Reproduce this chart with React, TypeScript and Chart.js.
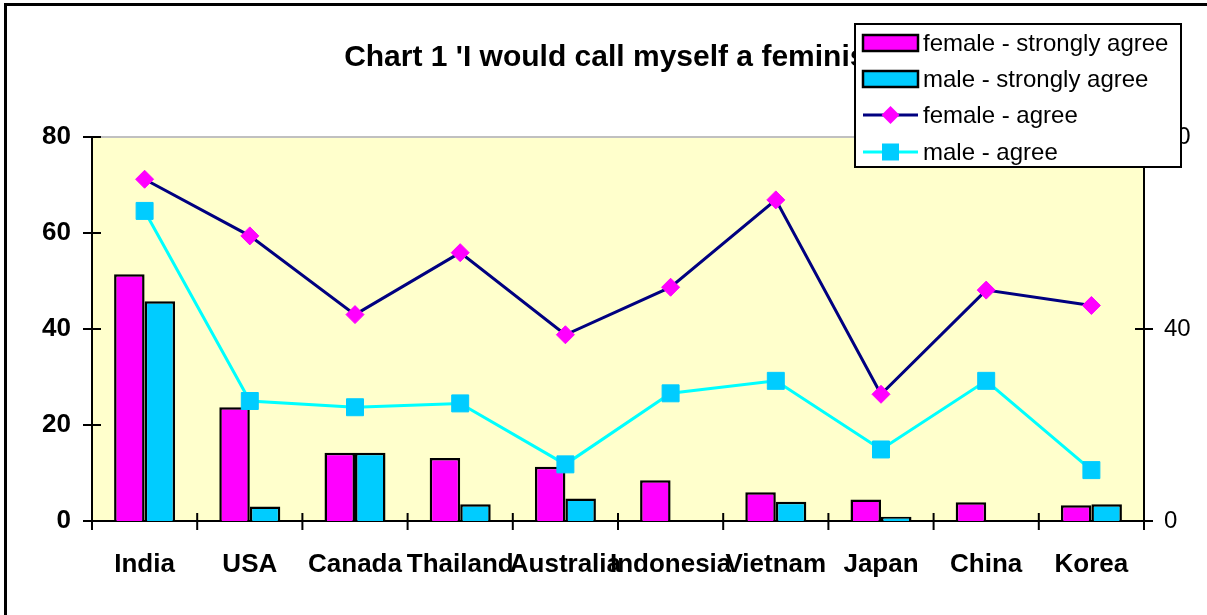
import React, { useEffect, useRef } from "react";
import { Chart, registerables } from "chart.js";

Chart.register(...registerables);

const categories = ["India", "USA", "Canada", "Thailand", "Australia", "Indonesia", "Vietnam", "Japan", "China", "Korea"];
const femaleStronglyAgree = [51.4, 23.7, 14.2, 13.1, 11.3, 8.5, 6.0, 4.5, 3.9, 3.3];
const maleStronglyAgree = [45.8, 3.0, 14.2, 3.5, 4.7, null, 4.0, 0.9, null, 3.5];
const femaleAgree = [71.2, 59.4, 43.0, 55.9, 38.8, 48.7, 66.9, 26.4, 48.1, 44.9];
const maleAgree = [64.6, 25.0, 23.7, 24.5, 11.8, 26.6, 29.2, 14.9, 29.2, 10.6];
const leftTicks = [0, 20, 40, 60, 80];
const rightTicks = [0, 40, 80];
const titleText = "Chart 1 'I would call myself a feminist' ";
const seriesNames = ["female - strongly agree", "male - strongly agree", "female - agree", "male - agree"];

const FONT = "'Liberation Sans', Arial, Helvetica, sans-serif";
const MAGENTA = "#FF00FF";
const CYAN_BAR = "#00CCFF";
const NAVY = "#000080";
const CYAN_LINE = "#00FFFF";

function line(ctx: CanvasRenderingContext2D, x1: number, y1: number, x2: number, y2: number) {
  ctx.beginPath();
  ctx.moveTo(x1, y1);
  ctx.lineTo(x2, y2);
  ctx.stroke();
}

const decorPlugin = {
  id: "decor",
  beforeDraw(chart: any) {
    const ctx = chart.ctx as CanvasRenderingContext2D;
    ctx.save();
    ctx.fillStyle = "#FFFFFF";
    ctx.fillRect(0, 0, chart.width, chart.height);
    ctx.strokeStyle = "#000";
    ctx.lineWidth = 3;
    line(ctx, 4.5, 4.5, chart.width, 4.5);
    line(ctx, 5.5, 3, 5.5, chart.height);
    ctx.restore();
  },
  beforeDatasetsDraw(chart: any) {
    const ctx = chart.ctx as CanvasRenderingContext2D;
    const a = chart.chartArea;
    const sx = chart.scales.x;
    const sy = chart.scales.y;
    const sy1 = chart.scales.y1;
    ctx.save();
    ctx.fillStyle = "#FFFFCC";
    ctx.fillRect(a.left, a.top, a.right - a.left, a.bottom - a.top);
    ctx.strokeStyle = "#C0C0C0";
    ctx.lineWidth = 2;
    line(ctx, a.left, a.top, a.right, a.top);
    ctx.strokeStyle = "#000";
    ctx.lineWidth = 2;
    line(ctx, a.left, a.top, a.left, a.bottom + 9);
    line(ctx, a.right, a.top, a.right, a.bottom + 9);
    line(ctx, a.left - 8, a.bottom, a.right + 9, a.bottom);
    leftTicks.forEach((v) => {
      const y = sy.getPixelForValue(v);
      line(ctx, a.left - 9, y, a.left + 9, y);
    });
    rightTicks.forEach((v) => {
      const y = sy1.getPixelForValue(v);
      line(ctx, a.right - 9, y, a.right + 9, y);
    });
    const n = categories.length;
    const w = (a.right - a.left) / n;
    for (let i = 0; i <= n; i++) {
      const x = i < n ? sx.getPixelForValue(i) - w / 2 : sx.getPixelForValue(n - 1) + w / 2;
      line(ctx, x, a.bottom - 8, x, a.bottom + 9);
    }
    ctx.restore();
  },
  afterDraw(chart: any) {
    const ctx = chart.ctx as CanvasRenderingContext2D;
    ctx.save();
    const bx = 855, by = 24, bw = 326, bh = 143;
    ctx.fillStyle = "#FFFFFF";
    ctx.fillRect(bx, by, bw, bh);
    ctx.strokeStyle = "#000";
    ctx.lineWidth = 2;
    ctx.strokeRect(bx, by, bw, bh);
    const rows = [43, 79, 115, 152];
    const sx0 = 863, sx1 = 918, mx = 890.5;
    [MAGENTA, CYAN_BAR].forEach((c, i) => {
      const y = rows[i];
      ctx.fillStyle = c;
      ctx.fillRect(sx0, y - 8, sx1 - sx0, 16);
      ctx.strokeStyle = "#000";
      ctx.lineWidth = 2.5;
      ctx.strokeRect(sx0, y - 8, sx1 - sx0, 16);
    });
    ctx.strokeStyle = NAVY;
    ctx.lineWidth = 3;
    line(ctx, sx0, rows[2], sx1, rows[2]);
    ctx.fillStyle = MAGENTA;
    ctx.beginPath();
    ctx.moveTo(mx, rows[2] - 9);
    ctx.lineTo(mx + 9, rows[2]);
    ctx.lineTo(mx, rows[2] + 9);
    ctx.lineTo(mx - 9, rows[2]);
    ctx.closePath();
    ctx.fill();
    ctx.strokeStyle = CYAN_LINE;
    ctx.lineWidth = 3;
    line(ctx, sx0, rows[3], sx1, rows[3]);
    ctx.fillStyle = CYAN_BAR;
    ctx.fillRect(mx - 8.5, rows[3] - 8.5, 17, 17);
    ctx.fillStyle = "#000";
    ctx.font = `24px ${FONT}`;
    ctx.textBaseline = "middle";
    ctx.textAlign = "left";
    seriesNames.forEach((t, i) => ctx.fillText(t, 923, rows[i] + 1));
    ctx.restore();
  },
};

export default function App() {
  const ref = useRef<HTMLCanvasElement | null>(null);
  useEffect(() => {
    if (!ref.current) return;
    const chart = new Chart(ref.current, {
      type: "bar",
      data: {
        labels: categories,
        datasets: [
          {
            type: "line",
            label: seriesNames[2],
            data: femaleAgree,
            yAxisID: "y1",
            order: 1,
            borderColor: NAVY,
            borderWidth: 3,
            pointStyle: "rectRot",
            pointRadius: 9,
            pointBackgroundColor: MAGENTA,
            pointBorderColor: MAGENTA,
            pointBorderWidth: 1,
            tension: 0,
            fill: false,
          },
          {
            type: "line",
            label: seriesNames[3],
            data: maleAgree,
            yAxisID: "y1",
            order: 0,
            borderColor: CYAN_LINE,
            borderWidth: 3,
            pointStyle: "rect",
            pointRadius: 12,
            pointBackgroundColor: CYAN_BAR,
            pointBorderColor: CYAN_BAR,
            pointBorderWidth: 1,
            tension: 0,
            fill: false,
          },
          {
            type: "bar",
            label: seriesNames[0],
            data: femaleStronglyAgree,
            yAxisID: "y",
            order: 2,
            backgroundColor: MAGENTA,
            borderColor: "#000",
            borderWidth: 2.5,
            barPercentage: 1,
            categoryPercentage: 0.58,
          },
          {
            type: "bar",
            label: seriesNames[1],
            data: maleStronglyAgree,
            yAxisID: "y",
            order: 2,
            backgroundColor: CYAN_BAR,
            borderColor: "#000",
            borderWidth: 2.5,
            barPercentage: 1,
            categoryPercentage: 0.58,
          },
        ] as any,
      },
      options: {
        responsive: false,
        animation: false,
        layout: { padding: 0 },
        plugins: {
          legend: { display: false },
          tooltip: { enabled: false },
          title: {
            display: true,
            fullSize: false,
            text: titleText,
            color: "#000",
            font: { family: FONT, size: 30, weight: "bold", lineHeight: 1.2 },
            padding: { top: 40, bottom: 61 },
          },
        },
        scales: {
          x: {
            type: "category",
            offset: true,
            grid: { display: false, drawTicks: false },
            border: { display: false },
            ticks: {
              autoSkip: false,
              maxRotation: 0,
              minRotation: 0,
              padding: 28,
              color: "#000",
              font: { family: FONT, size: 26, weight: "bold" },
            },
            afterFit(s: any) {
              s.height = 94;
            },
          },
          y: {
            position: "left",
            min: 0,
            max: 80,
            grid: { display: false, drawTicks: false },
            border: { display: false },
            ticks: {
              stepSize: 20,
              padding: 21,
              color: "#000",
              font: { family: FONT, size: 26, weight: "bold" },
            },
            afterFit(s: any) {
              s.width = 92;
            },
          },
          y1: {
            position: "right",
            min: 0,
            max: 80,
            grid: { display: false, drawTicks: false },
            border: { display: false },
            ticks: {
              stepSize: 40,
              padding: 20,
              color: "#000",
              font: { family: FONT, size: 24, weight: "normal" },
            },
            afterFit(s: any) {
              s.width = 63;
            },
          },
        },
      } as any,
      plugins: [decorPlugin],
    });
    return () => chart.destroy();
  }, []);

  return (
    <div style={{ position: "absolute", left: 0, top: 0, width: 1207, height: 615 }}>
      <canvas ref={ref} width={1207} height={615} style={{ display: "block", width: 1207, height: 615 }} />
    </div>
  );
}
